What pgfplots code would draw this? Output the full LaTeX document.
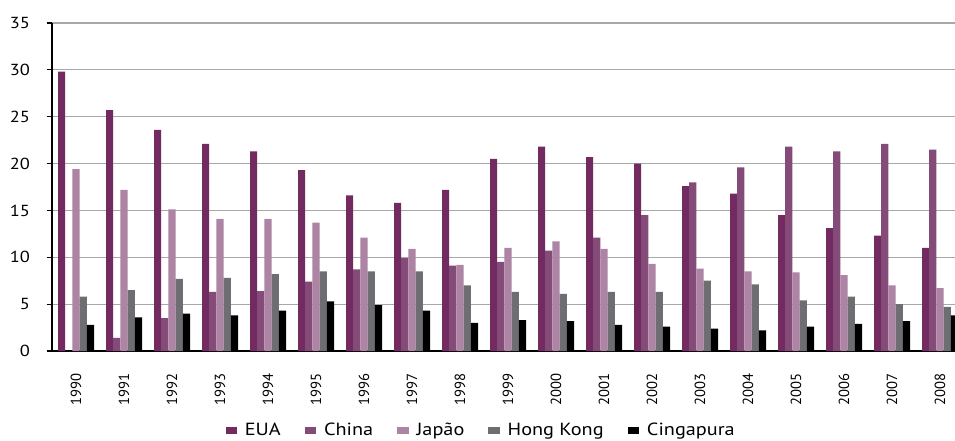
\documentclass[border=0pt]{standalone}
\usepackage{fontspec}
\setmainfont{PT Sans}
\newfontfamily\widefont[FakeStretch=1.15]{PT Sans}
\newfontfamily\legfont[FakeStretch=1.15]{PT Sans}
\usepackage{pgfplots}
\pgfplotsset{compat=1.18}
\definecolor{cEUA}{HTML}{722A61}
\definecolor{cChina}{HTML}{844A78}
\definecolor{cJapao}{HTML}{AE84A4}
\definecolor{cHK}{HTML}{6D6E71}
\definecolor{cCing}{HTML}{000000}
\definecolor{gridc}{HTML}{A8A8A8}
\begin{document}
\begin{tikzpicture}[x=0.75pt,y=0.75pt]
\begin{axis}[
  name=ax, at={(0,0)}, anchor=south west,
  scale only axis, width=677.25pt, height=246pt,
  ybar=0pt, bar width=5.4pt,
  xmin=-0.5, xmax=18.3125, ymin=0, ymax=35,
  axis lines*=left,
  axis line style={black, line width=0.9pt},
  ytick={0,5,...,35},
  ymajorgrids, grid style={gridc, line width=0.9pt},
  tick align=outside,
  major tick length=4pt,
  tick style={black, line width=0.8pt},
  xtick={0,...,18},
  xticklabels={1990,1991,1992,1993,1994,1995,1996,1997,1998,1999,2000,2001,2002,2003,2004,2005,2006,2007,2008},
  x tick style={draw=none},
  extra x ticks={-0.5,0.5,...,17.5},
  extra x tick labels={},
  extra x tick style={grid=none, tick style={black, line width=0.8pt}, major tick length=3pt},
  x tick label style={rotate=90, anchor=east, font=\fontsize{11}{12}\selectfont, xshift=-9pt},
  y tick label style={font=\widefont\fontsize{12}{13}\selectfont, xshift=-9pt},
  /pgf/number format/assume math mode=true,
  legend style={at={(0.4756,-0.242)}, anchor=center, draw=none, legend columns=-1,
    font=\legfont\fontsize{13.2}{14}\selectfont,
    /tikz/every odd column/.append style={column sep=4pt},
    /tikz/every even column/.append style={column sep=16pt}},
  legend image code/.code={\fill[#1] (0pt,-2.7pt) rectangle (8.5pt,2.9pt);},
]
\addplot[fill=cEUA, draw=none] coordinates {(0,29.8)(1,25.7)(2,23.6)(3,22.1)(4,21.3)(5,19.3)(6,16.6)(7,15.8)(8,17.2)(9,20.5)(10,21.8)(11,20.7)(12,20.0)(13,17.6)(14,16.8)(15,14.5)(16,13.1)(17,12.3)(18,11.0)};
\addplot[fill=cChina, draw=none] coordinates {(0,0)(1,1.4)(2,3.5)(3,6.3)(4,6.4)(5,7.4)(6,8.7)(7,9.9)(8,9.1)(9,9.5)(10,10.7)(11,12.1)(12,14.5)(13,18.0)(14,19.6)(15,21.8)(16,21.3)(17,22.1)(18,21.5)};
\addplot[fill=cJapao, draw=none] coordinates {(0,19.4)(1,17.2)(2,15.1)(3,14.1)(4,14.1)(5,13.7)(6,12.1)(7,10.9)(8,9.2)(9,11.0)(10,11.7)(11,10.9)(12,9.3)(13,8.8)(14,8.5)(15,8.4)(16,8.1)(17,7.0)(18,6.7)};
\addplot[fill=cHK, draw=none] coordinates {(0,5.8)(1,6.5)(2,7.7)(3,7.8)(4,8.2)(5,8.5)(6,8.5)(7,8.5)(8,7.0)(9,6.3)(10,6.1)(11,6.3)(12,6.3)(13,7.5)(14,7.1)(15,5.4)(16,5.8)(17,5.0)(18,4.7)};
\addplot[fill=cCing, draw=none] coordinates {(0,2.8)(1,3.6)(2,4.0)(3,3.8)(4,4.3)(5,5.3)(6,4.9)(7,4.3)(8,3.0)(9,3.3)(10,3.2)(11,2.8)(12,2.6)(13,2.4)(14,2.2)(15,2.6)(16,2.9)(17,3.2)(18,3.8)};
\legend{EUA,China,Japão,Hong Kong,Cingapura}
\end{axis}
\pgfresetboundingbox
\path[use as bounding box] ([xshift=-52*0.75pt, yshift=-89*0.75pt]ax.south west) rectangle ([xshift=903*0.75pt, yshift=(328+23)*0.75pt]ax.south west);
\end{tikzpicture}
\end{document}
